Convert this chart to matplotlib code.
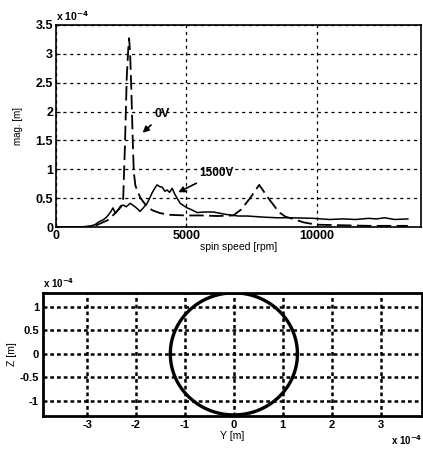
import numpy as np
import matplotlib
matplotlib.use('Agg')
import matplotlib.pyplot as plt

plt.rcParams['font.family'] = ['Liberation Sans', 'DejaVu Sans']
plt.rcParams['font.weight'] = 'bold'

# top plot: magnitude vs spin speed (mag in units of 1e-4 m)
rpm_0v = [0, 1000, 1500, 2000, 2300, 2500, 2580, 2650, 2720, 2780, 2810, 2850, 2900,
          2950, 2990, 3050, 3150, 3250, 3450, 3700, 4000, 4400, 5000, 5600, 6200,
          6800, 7100, 7450, 7800, 8150, 8550, 8800, 9100, 9500, 10000, 11000, 12000, 13500]
mag_0v = [0, 0, 0.02, 0.12, 0.25, 0.35, 0.45, 1.4, 2.6, 3.1, 3.27, 3.0, 2.3,
          1.5, 0.95, 0.72, 0.6, 0.5, 0.38, 0.29, 0.24, 0.21, 0.2, 0.2, 0.19,
          0.2, 0.3, 0.5, 0.73, 0.5, 0.26, 0.18, 0.14, 0.08, 0.04, 0.03, 0.02, 0.02]

rpm_1500 = [0, 1000, 1270, 1500, 1650, 1800, 1920, 2000, 2100, 2190, 2280, 2390, 2480,
            2580, 2700, 2850, 2950, 3040, 3140, 3230, 3350, 3500, 3600, 3690, 3780,
            3880, 3980, 4080, 4180, 4270, 4360, 4460, 4560, 4650, 4770, 4900, 5040,
            5200, 5420, 5700, 6040, 6500, 7000, 7350, 8000, 8500, 9000, 9880, 10500,
            11000, 11500, 12000, 12300, 12600, 13000, 13500]
mag_1500 = [0, 0, 0.01, 0.04, 0.09, 0.12, 0.16, 0.2, 0.26, 0.33, 0.24, 0.3, 0.36,
            0.38, 0.35, 0.41, 0.38, 0.35, 0.31, 0.27, 0.33, 0.41, 0.5, 0.59, 0.66,
            0.73, 0.7, 0.69, 0.62, 0.64, 0.6, 0.67, 0.57, 0.5, 0.41, 0.37, 0.33,
            0.3, 0.25, 0.26, 0.26, 0.22, 0.19, 0.19, 0.17, 0.16, 0.16, 0.15, 0.13,
            0.14, 0.13, 0.15, 0.14, 0.16, 0.13, 0.14]

top_yticks = [0, 0.5, 1, 1.5, 2, 2.5, 3, 3.5]
top_ylabels = ['0', '0.5', '1', '1.5', '2', '2.5', '3', '3.5']
top_xticks = [0, 5000, 10000]

# bottom plot: orbit (units of 1e-4 m)
orbit_radius = 1.3
bot_xticks = [-3, -2, -1, 0, 1, 2, 3]
bot_yticks = [-1, -0.5, 0, 0.5, 1]
bot_ylabels = ['-1', '-0.5', '0', '0.5', '1']

fig = plt.figure(figsize=(4.23, 4.54), dpi=100)

ax1 = fig.add_axes([0.132, 0.5, 0.863, 0.445])
ax1.plot(rpm_0v, mag_0v, color='black', lw=1.3, dashes=(8, 3))
ax1.plot(rpm_1500, mag_1500, color='black', lw=1.1)
ax1.set_xlim(0, 14000)
ax1.set_ylim(0, 3.5)
ax1.set_xticks(top_xticks)
ax1.set_xticklabels([str(t) for t in top_xticks])
ax1.set_yticks(top_yticks)
ax1.set_yticklabels(top_ylabels)
ax1.grid(True, color='black', linestyle=(0, (2.5, 3)), lw=0.9)
ax1.tick_params(direction='in', labelsize=9, length=3, pad=2)
ax1.set_xlabel('spin speed [rpm]', fontsize=7.5, labelpad=0)
ax1.set_ylabel('mag. [m]', fontsize=7, labelpad=9)
ax1.text(0.0, 1.01, 'x 10$^{-4}$', transform=ax1.transAxes, fontsize=7.5, va='bottom')
ax1.annotate('0V', xy=(3250, 1.6), xytext=(3800, 1.9), fontsize=9,
             arrowprops=dict(arrowstyle='-|>', color='black', lw=1.2))
ax1.annotate('1500V', xy=(4600, 0.58), xytext=(5500, 0.88), fontsize=8.5,
             arrowprops=dict(arrowstyle='-|>', color='black', lw=1.2))
for s in ax1.spines.values():
    s.set_linewidth(1.2)

ax2 = fig.add_axes([0.102, 0.084, 0.896, 0.271])
theta = np.linspace(0, 2 * np.pi, 400)
ax2.plot(orbit_radius * np.cos(theta), orbit_radius * np.sin(theta), color='black', lw=2.4)
ax2.set_xlim(-3.9, 3.85)
ax2.set_ylim(-1.32, 1.3)
ax2.set_xticks(bot_xticks)
ax2.set_xticklabels([str(t) for t in bot_xticks])
ax2.set_yticks(bot_yticks)
ax2.set_yticklabels(bot_ylabels)
ax2.grid(True, color='black', linestyle=(0, (1.5, 1.2)), lw=1.8)
ax2.tick_params(direction='in', labelsize=8, length=3, pad=3)
ax2.set_xlabel('Y [m]', fontsize=7.5, labelpad=1)
ax2.set_ylabel('Z [m]', fontsize=7.5, labelpad=2)
ax2.text(0.0, 1.02, 'x 10$^{-4}$', transform=ax2.transAxes, fontsize=7, va='bottom')
ax2.text(1.0, -0.2, 'x 10$^{-4}$', transform=ax2.transAxes, fontsize=7, va='center', ha='right')
for s in ax2.spines.values():
    s.set_linewidth(2)

fig.savefig('out.png', dpi=100)
